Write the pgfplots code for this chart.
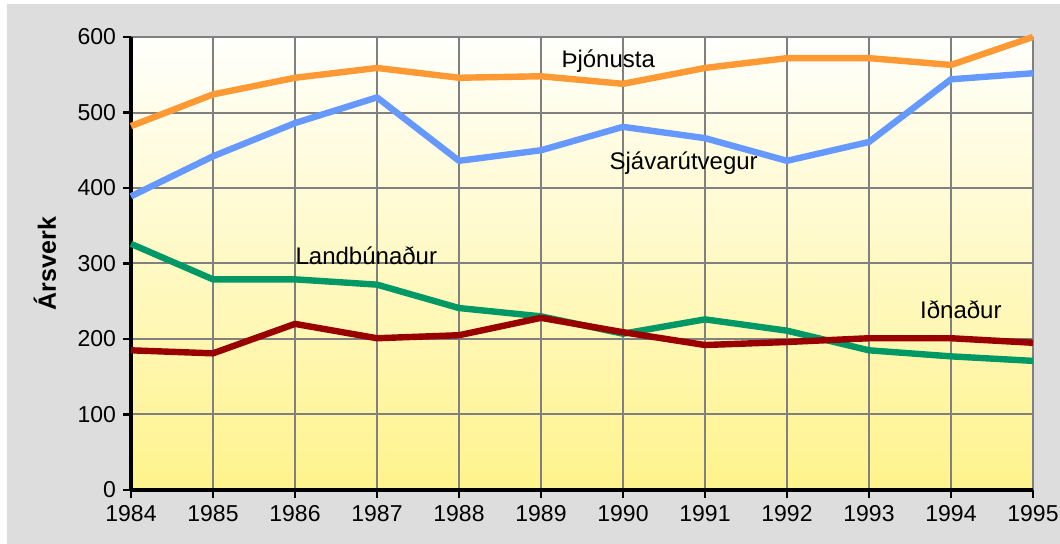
\documentclass[border=0pt]{standalone}
\usepackage{pgfplots}
\pgfplotsset{compat=1.18}
\usepackage{fontspec}
\setmainfont{Liberation Sans}
\definecolor{bggray}{RGB}{221,221,221}
\definecolor{cOrange}{RGB}{255,153,51}
\definecolor{cBlue}{RGB}{102,153,255}
\definecolor{cGreen}{RGB}{0,153,102}
\definecolor{cRed}{RGB}{153,0,0}
\definecolor{yTop}{RGB}{255,255,252}
\definecolor{yBot}{RGB}{255,243,140}
\begin{document}
\begin{tikzpicture}
\useasboundingbox[fill=white] (-65.5pt,-27pt) rectangle (464.5pt,245pt);
\fill[bggray] (-62pt,-27pt) rectangle (464.5pt,243pt);
\begin{axis}[
  scale only axis,
  width=451pt, height=226.5pt,
  at={(0,0)}, anchor=south west,
  xmin=1984, xmax=1995, ymin=0, ymax=600,
  xtick={1984,1985,...,1995},
  ytick={0,100,...,600},
  axis lines=left,
  axis line style={-, line width=1.8pt, black},
  axis background/.style={top color=yTop, bottom color=yBot},
  grid=major,
  major grid style={draw=gray, line width=1pt},
  tick align=outside,
  major tick length=4pt,
  major tick style={black, line width=1.2pt},
  /pgf/number format/assume math mode=true,
  x tick label style={/pgf/number format/1000 sep={}},
  tick label style={font=\fontsize{11.5}{13}\selectfont},
  clip=false,
  every axis plot/.append style={line width=3.2pt, mark=none, line join=round},
]
\addplot[cOrange] coordinates {
(1984,482) (1985,524) (1986,546) (1987,559) (1988,546) (1989,548)
(1990,538) (1991,559) (1992,572) (1993,572) (1994,563) (1995,600)};
\addplot[cBlue] coordinates {
(1984,389) (1985,442) (1986,486) (1987,520) (1988,436) (1989,450)
(1990,481) (1991,466) (1992,436) (1993,461) (1994,544) (1995,552)};
\addplot[cGreen] coordinates {
(1984,326) (1985,279) (1986,279) (1987,272) (1988,241) (1989,230)
(1990,207) (1991,226) (1992,211) (1993,185) (1994,177) (1995,171)};
\addplot[cRed] coordinates {
(1984,185) (1985,181) (1986,220) (1987,201) (1988,205) (1989,228)
(1990,209) (1991,192) (1992,196) (1993,201) (1994,201) (1995,195)};
\node[anchor=base, font=\fontsize{12}{14}\selectfont] at (axis cs:1989.82,560) {Þjónusta};
\node[anchor=base, font=\fontsize{12}{14}\selectfont] at (axis cs:1990.74,424) {Sjávarútvegur};
\node[anchor=base, font=\fontsize{12}{14}\selectfont] at (axis cs:1986.87,299) {Landbúnaður};
\node[anchor=base, font=\fontsize{12}{14}\selectfont] at (axis cs:1994.12,226.5) {Iðnaður};
\node[rotate=90, anchor=center, font=\fontsize{12.5}{14}\selectfont\bfseries] at ([xshift=-43pt]rel axis cs:0,0.5) {Ársverk};
\end{axis}
\end{tikzpicture}
\end{document}
